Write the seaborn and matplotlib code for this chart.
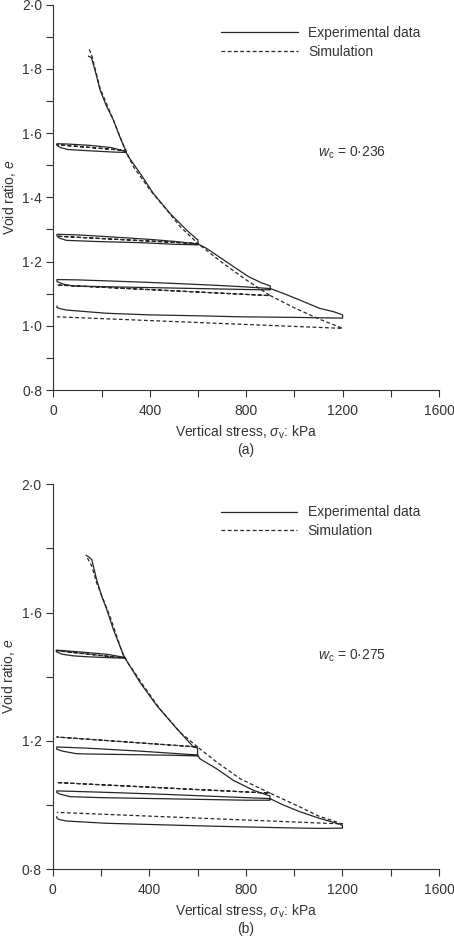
import matplotlib
matplotlib.use("Agg")
import matplotlib.pyplot as plt
import seaborn as sns
import pandas as pd

# ---- panel (a): w_c = 0.236 ----
exp_a_stress = [145, 158, 175, 194, 220, 249, 275, 293, 300, 300,
                250, 150, 60, 30, 15, 15, 60, 150, 240, 300,
                311, 360, 415, 484, 553, 595, 600, 600,
                500, 360, 200, 55, 25, 15, 15, 100, 194, 300, 401, 500, 600,
                636, 691, 750, 810, 860, 900, 900,
                800, 600, 400, 200, 83, 40, 15, 15, 100, 332, 500, 678, 800, 900,
                954, 1023, 1106, 1162, 1200, 1200,
                1100, 1023, 775, 609, 400, 221, 55, 30, 15, 15]
exp_a_void = [1.840, 1.835, 1.790, 1.734, 1.685, 1.641, 1.590, 1.558, 1.548, 1.540,
              1.541, 1.545, 1.549, 1.555, 1.562, 1.567, 1.566, 1.562, 1.555, 1.543,
              1.527, 1.475, 1.412, 1.350, 1.298, 1.270, 1.268, 1.252,
              1.254, 1.259, 1.262, 1.266, 1.273, 1.280, 1.285, 1.283, 1.279, 1.274, 1.269, 1.263, 1.255,
              1.241, 1.213, 1.183, 1.153, 1.135, 1.124, 1.112,
              1.113, 1.116, 1.119, 1.122, 1.124, 1.130, 1.138, 1.144, 1.143, 1.137, 1.132, 1.126, 1.121, 1.116,
              1.101, 1.080, 1.054, 1.044, 1.034, 1.024,
              1.025, 1.026, 1.028, 1.031, 1.034, 1.039, 1.049, 1.053, 1.057, 1.062]

sim_a_stress = [149, 160, 194, 249, 297, 300, 15, 300,
                332, 401, 470, 526, 600, 15, 600,
                700, 800, 900, 15, 900,
                1000, 1100, 1200, 15]
sim_a_void = [1.861, 1.840, 1.739, 1.641, 1.550, 1.546, 1.564, 1.546,
              1.496, 1.423, 1.361, 1.309, 1.256, 1.279, 1.256,
              1.197, 1.143, 1.094, 1.127, 1.094,
              1.056, 1.022, 0.992, 1.028]

# ---- panel (b): w_c = 0.275 ----
exp_b_stress = [138, 152, 162, 182, 203, 224, 251, 286, 295, 300,
                250, 150, 86, 40, 15, 15, 100, 224, 300,
                306, 362, 431, 514, 583, 600, 600,
                500, 334, 150, 99, 40, 17, 17, 150, 362, 500, 600,
                610, 679, 748, 831, 893, 900, 900,
                800, 500, 200, 72, 30, 17, 17, 200, 472, 700, 900,
                955, 1024, 1107, 1190, 1200, 1200,
                1121, 1024, 776, 610, 224, 58, 25, 17, 17]
exp_b_void = [1.779, 1.772, 1.765, 1.703, 1.651, 1.610, 1.548, 1.481, 1.465, 1.458,
              1.459, 1.462, 1.465, 1.470, 1.478, 1.483, 1.478, 1.470, 1.460,
              1.450, 1.382, 1.310, 1.238, 1.181, 1.178, 1.153,
              1.155, 1.157, 1.159, 1.160, 1.168, 1.174, 1.181, 1.177, 1.168, 1.161, 1.156,
              1.144, 1.113, 1.077, 1.046, 1.030, 1.028, 1.015,
              1.015, 1.019, 1.023, 1.026, 1.034, 1.039, 1.044, 1.040, 1.033, 1.026, 1.020,
              1.000, 0.979, 0.958, 0.940, 0.936, 0.928,
              0.927, 0.928, 0.932, 0.935, 0.943, 0.950, 0.955, 0.960, 0.964]

sim_b_stress = [144, 162, 182, 237, 293, 300, 17, 300,
                306, 376, 444, 527, 600, 17, 600,
                679, 776, 900, 17, 900,
                1024, 1100, 1200, 17]
sim_b_void = [1.770, 1.745, 1.693, 1.589, 1.465, 1.458, 1.481, 1.458,
              1.450, 1.372, 1.300, 1.227, 1.181, 1.212, 1.181,
              1.134, 1.082, 1.037, 1.070, 1.037,
              0.994, 0.966, 0.941, 0.977]

panel_labels = ["(a)", "(b)"]
wc_labels = ["0·236", "0·275"]
x_ticks = list(range(0, 1601, 200))
x_ticklabels = ["0", "", "400", "", "800", "", "1200", "", "1600"]
y_ticks_a = [0.8, 0.9, 1.0, 1.1, 1.2, 1.3, 1.4, 1.5, 1.6, 1.7, 1.8, 1.9, 2.0]
y_ticklabels_a = ["0·8", "", "1·0", "", "1·2", "", "1·4", "", "1·6", "", "1·8", "", "2·0"]
y_ticks_b = [0.8, 1.0, 1.2, 1.4, 1.6, 1.8, 2.0]
y_ticklabels_b = ["0·8", "", "1·2", "", "1·6", "", "2·0"]

sns.set_style("ticks")
plt.rcParams["font.family"] = ["Liberation Sans", "DejaVu Sans"]
plt.rcParams["mathtext.fontset"] = "custom"
plt.rcParams["mathtext.rm"] = "Liberation Sans"
plt.rcParams["mathtext.it"] = "Liberation Sans:italic"
plt.rcParams["font.size"] = 10

TEXT = "#333333"
LINE = "#262626"

fig = plt.figure(figsize=(4.54, 9.38), dpi=100)
ax1 = fig.add_axes([0.1175, 0.5842, 0.8495, 0.4108])
ax2 = fig.add_axes([0.116, 0.0734, 0.851, 0.4103])

panels = [
    (ax1, exp_a_stress, exp_a_void, sim_a_stress, sim_a_void, y_ticks_a, y_ticklabels_a, 0.615),
    (ax2, exp_b_stress, exp_b_void, sim_b_stress, sim_b_void, y_ticks_b, y_ticklabels_b, 0.554),
]

for i, (ax, ex, ey, sx, sy, yt, ytl, wy) in enumerate(panels):
    exp_df = pd.DataFrame({"stress": ex, "void": ey})
    sim_df = pd.DataFrame({"stress": sx, "void": sy})
    sns.lineplot(data=exp_df, x="stress", y="void", sort=False, estimator=None,
                 ax=ax, color=LINE, lw=0.9, label="Experimental data")
    sns.lineplot(data=sim_df, x="stress", y="void", sort=False, estimator=None,
                 ax=ax, color=LINE, lw=0.9, linestyle=(0, (3, 2)), label="Simulation")

    ax.set_xlim(0, 1600)
    ax.set_ylim(0.8, 2.0)
    ax.set_xticks(x_ticks, x_ticklabels)
    ax.set_yticks(yt, ytl)
    ax.tick_params(direction="out", length=5, width=0.8, colors=TEXT,
                   labelsize=10, pad=3)
    ax.tick_params(axis="x", pad=5)
    for s in ["top", "right"]:
        ax.spines[s].set_visible(False)
    for s in ["left", "bottom"]:
        ax.spines[s].set_color(TEXT)
        ax.spines[s].set_linewidth(0.8)

    ax.set_xlabel(r"Vertical stress, $\sigma_{\mathrm{v}}$: kPa", color=TEXT,
                  fontsize=10, labelpad=4)
    ax.set_ylabel(r"Void ratio, $e$", color=TEXT, fontsize=10, labelpad=3)
    ax.annotate(panel_labels[i], xy=(0.5, 0), xycoords="axes fraction",
                xytext=(0, -43), textcoords="offset points",
                ha="center", va="center", color=TEXT, fontsize=10)
    ax.text(0.687, wy, r"$w_{\mathrm{c}}$ = " + wc_labels[i],
            transform=ax.transAxes, color=TEXT, fontsize=10, va="center")

    ax.legend(loc="upper left", bbox_to_anchor=(0.435, 0.945), frameon=False,
              handlelength=5.5, handletextpad=0.75, labelspacing=0.35,
              borderpad=0, borderaxespad=0, fontsize=10, labelcolor=TEXT)

fig.savefig("out.png", dpi=100)
